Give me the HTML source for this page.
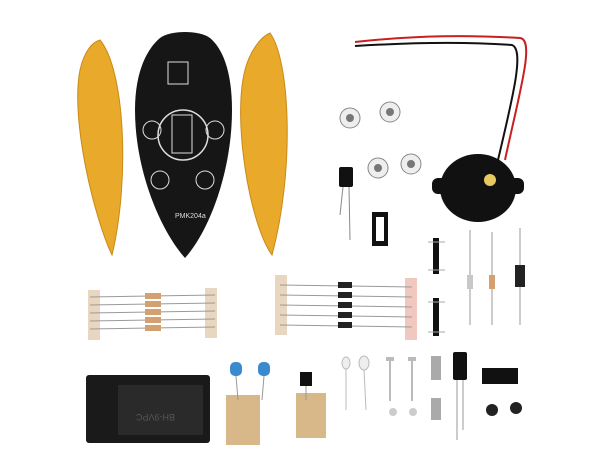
<!DOCTYPE html>
<html><head><meta charset="utf-8"><style>
html,body{margin:0;padding:0;background:#fff;width:600px;height:450px;overflow:hidden}
</style></head><body>
<svg width="600" height="450" viewBox="0 0 600 450" xmlns="http://www.w3.org/2000/svg">
<rect width="600" height="450" fill="#fff"/>
<!-- left yellow leaf -->
<path d="M100,40 C125,70 130,180 112,255 C95,220 70,120 80,70 C84,52 92,42 100,40Z" fill="#e9a92a" stroke="#c98a18"/>
<!-- right yellow leaf -->
<path d="M270,33 C290,60 295,170 272,255 C250,225 232,120 245,70 C250,50 262,36 270,33Z" fill="#e9a92a" stroke="#c98a18"/>
<!-- black pcb -->
<path d="M160,38 C170,30 200,30 210,38 C222,48 232,70 232,110 C232,170 210,230 185,258 C160,230 135,170 135,110 C135,70 148,48 160,38Z" fill="#161616"/>
<circle cx="183" cy="135" r="25" fill="none" stroke="#ddd" stroke-width="1.5"/>
<rect x="172" y="115" width="20" height="38" fill="none" stroke="#ddd"/>
<rect x="168" y="62" width="20" height="22" fill="none" stroke="#ddd"/>
<circle cx="152" cy="130" r="9" fill="none" stroke="#ddd"/>
<circle cx="215" cy="130" r="9" fill="none" stroke="#ddd"/>
<circle cx="160" cy="180" r="9" fill="none" stroke="#ddd"/>
<circle cx="205" cy="180" r="9" fill="none" stroke="#ddd"/>
<text x="175" y="218" font-family="Liberation Sans, sans-serif" font-size="7" fill="#ddd">PMK204a</text>
<!-- wires -->
<path d="M355,42 C420,35 470,35 520,38 C535,40 520,90 505,160" fill="none" stroke="#c82020" stroke-width="2"/>
<path d="M355,46 C420,42 470,42 512,45 C525,50 512,100 498,160" fill="none" stroke="#111" stroke-width="2"/>
<!-- buzzer -->
<ellipse cx="478" cy="188" rx="38" ry="34" fill="#111"/>
<rect x="432" y="178" width="92" height="16" rx="6" fill="#111"/>
<circle cx="490" cy="180" r="6" fill="#e8c860"/>
<!-- trimpots -->
<g fill="#eee" stroke="#888"><circle cx="350" cy="118" r="10"/><circle cx="390" cy="112" r="10"/><circle cx="378" cy="168" r="10"/><circle cx="411" cy="164" r="10"/></g>
<g fill="#777"><circle cx="350" cy="118" r="4"/><circle cx="390" cy="112" r="4"/><circle cx="378" cy="168" r="4"/><circle cx="411" cy="164" r="4"/></g>
<!-- small electrolytic -->
<rect x="339" y="167" width="14" height="20" rx="2" fill="#111"/>
<line x1="343" y1="187" x2="340" y2="215" stroke="#888"/><line x1="349" y1="187" x2="350" y2="240" stroke="#888"/>
<!-- ic socket -->
<rect x="372" y="212" width="16" height="34" fill="#111"/><rect x="376" y="217" width="8" height="24" fill="#fff"/>
<!-- headers -->
<rect x="433" y="238" width="6" height="36" fill="#111"/><line x1="428" y1="242" x2="445" y2="242" stroke="#aaa"/><line x1="428" y1="270" x2="445" y2="270" stroke="#aaa"/>
<rect x="433" y="298" width="6" height="38" fill="#111"/><line x1="428" y1="302" x2="445" y2="302" stroke="#aaa"/><line x1="428" y1="332" x2="445" y2="332" stroke="#aaa"/>
<!-- vertical parts -->
<line x1="470" y1="230" x2="470" y2="325" stroke="#999"/><rect x="467" y="275" width="6" height="14" fill="#c8c8c8"/>
<line x1="492" y1="232" x2="492" y2="325" stroke="#999"/><rect x="489" y="275" width="6" height="14" fill="#d4a070"/>
<line x1="520" y1="228" x2="520" y2="325" stroke="#999"/><rect x="515" y="265" width="10" height="22" fill="#222"/>
<!-- left resistor strip -->
<rect x="88" y="290" width="12" height="50" fill="#e8d6c0"/><rect x="205" y="288" width="12" height="50" fill="#e8d6c0"/>
<g stroke="#999"><line x1="90" y1="297" x2="215" y2="295"/><line x1="90" y1="305" x2="215" y2="303"/><line x1="90" y1="313" x2="215" y2="311"/><line x1="90" y1="321" x2="215" y2="319"/><line x1="90" y1="329" x2="215" y2="327"/></g>
<g fill="#d4a070"><rect x="145" y="293" width="16" height="6"/><rect x="145" y="301" width="16" height="6"/><rect x="145" y="309" width="16" height="6"/><rect x="145" y="317" width="16" height="6"/><rect x="145" y="325" width="16" height="6"/></g>
<!-- diode strip -->
<rect x="275" y="275" width="12" height="60" fill="#e8d6c0"/><rect x="405" y="278" width="12" height="62" fill="#f0c8c0"/>
<g stroke="#999"><line x1="280" y1="285" x2="412" y2="287"/><line x1="280" y1="295" x2="412" y2="297"/><line x1="280" y1="305" x2="412" y2="307"/><line x1="280" y1="315" x2="412" y2="317"/><line x1="280" y1="325" x2="412" y2="327"/></g>
<g fill="#222"><rect x="338" y="282" width="14" height="6"/><rect x="338" y="292" width="14" height="6"/><rect x="338" y="302" width="14" height="6"/><rect x="338" y="312" width="14" height="6"/><rect x="338" y="322" width="14" height="6"/></g>
<!-- battery holder -->
<rect x="86" y="375" width="124" height="68" rx="3" fill="#1a1a1a"/>
<rect x="118" y="385" width="85" height="50" fill="#2a2a2a"/>
<text x="135" y="420" font-family="Liberation Sans, sans-serif" font-size="9" fill="#555" transform="rotate(180 155 417)">BH-9VPC</text>
<!-- cardboards -->
<rect x="226" y="395" width="34" height="50" fill="#d8b888"/><rect x="296" y="393" width="30" height="45" fill="#d8b888"/>
<!-- blue caps -->
<rect x="230" y="362" width="12" height="14" rx="5" fill="#3a8ad0"/><rect x="258" y="362" width="12" height="14" rx="5" fill="#3a8ad0"/>
<line x1="236" y1="376" x2="238" y2="400" stroke="#999"/><line x1="264" y1="376" x2="262" y2="400" stroke="#999"/>
<!-- transistor -->
<path d="M300,372 h12 v14 h-12 z" fill="#111"/><line x1="306" y1="386" x2="306" y2="400" stroke="#999"/>
<!-- leds -->
<ellipse cx="346" cy="363" rx="4" ry="6" fill="#eee" stroke="#bbb"/><ellipse cx="364" cy="363" rx="5" ry="7" fill="#eee" stroke="#bbb"/>
<line x1="346" y1="369" x2="346" y2="410" stroke="#bbb"/><line x1="364" y1="370" x2="366" y2="410" stroke="#bbb"/>
<!-- screws -->
<g fill="#bbb"><rect x="386" y="357" width="8" height="4"/><rect x="389" y="361" width="2" height="40"/><rect x="408" y="357" width="8" height="4"/><rect x="411" y="361" width="2" height="40"/></g>
<circle cx="393" cy="412" r="4" fill="#ccc"/><circle cx="413" cy="412" r="4" fill="#ccc"/>
<!-- spacers -->
<rect x="431" y="356" width="10" height="24" fill="#aaa"/><rect x="431" y="398" width="10" height="22" fill="#aaa"/>
<!-- electrolytic -->
<rect x="453" y="352" width="14" height="28" rx="2" fill="#111"/><line x1="457" y1="380" x2="457" y2="440" stroke="#999"/><line x1="463" y1="380" x2="463" y2="430" stroke="#999"/>
<!-- IC -->
<rect x="482" y="368" width="36" height="16" fill="#111"/>
<!-- black screws -->
<circle cx="492" cy="410" r="6" fill="#222"/><circle cx="516" cy="408" r="6" fill="#222"/>
</svg>
</body></html>
